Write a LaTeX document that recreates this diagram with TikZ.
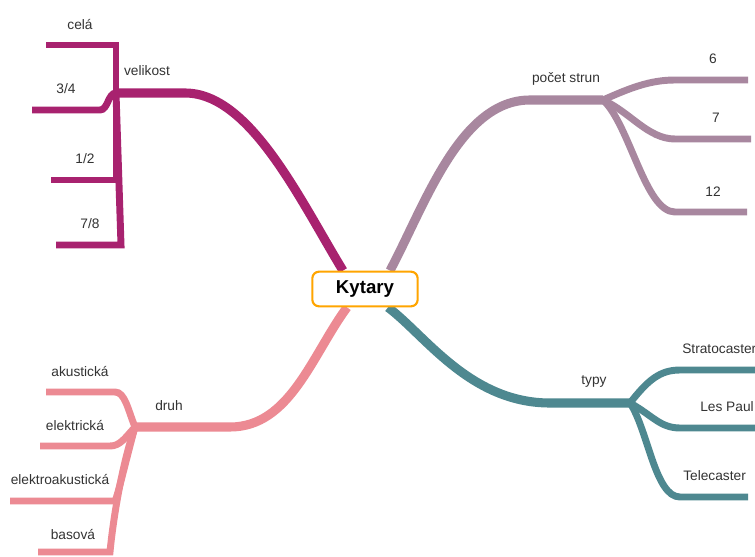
\documentclass[tikz,border=0pt]{standalone}
\usepackage{fontspec}
\setmainfont{Liberation Sans}
\usetikzlibrary{calc}
\pgfdeclarelayer{bottom}
\pgfdeclarelayer{background}
\pgfsetlayers{bottom,background,main}
\definecolor{cVel}{HTML}{A8226F}
\definecolor{cStr}{HTML}{A8879F}
\definecolor{cDruh}{HTML}{EC8A93}
\definecolor{cTyp}{HTML}{4E8890}
\definecolor{cRoot}{HTML}{FFA500}
\definecolor{cText}{HTML}{333333}
\tikzset{
  rootbox/.style={draw=cRoot, line width=1.6pt, fill=white, rounded corners=5pt,
    minimum width=79pt, minimum height=26pt, inner sep=0pt,
    font=\fontsize{14}{16}\selectfont\bfseries, text=black},
  lbl/.style={font=\fontsize{10.3}{12}\selectfont, text=cText, inner sep=0pt},
  mainbranch/.style={line width=6.8pt},
  subbranch/.style={line width=5.2pt, line join=miter},
}
\begin{document}
\begin{tikzpicture}[x=0.75pt,y=-0.75pt]
\clip (0,0) rectangle (755,556);
\begin{pgfonlayer}{bottom}
\fill[white] (0,0) rectangle (755,556);
\end{pgfonlayer}

% central topic
\node[rootbox] (K) at (365,289) {Kytary};

% branch junctions
\coordinate (V) at (116,93);
\coordinate (S) at (603,100);
\coordinate (D) at (135,427);
\coordinate (T) at (630,403);

% leaf ends
\coordinate (vCela) at (46,45);
\coordinate (vTri) at (32,110);
\coordinate (vPul) at (51,180);
\coordinate (vSed) at (56,245);
\coordinate (s6) at (748,80);
\coordinate (s7) at (751,139);
\coordinate (s12) at (747,212);
\coordinate (tStrat) at (756,370);
\coordinate (tLes) at (756,428);
\coordinate (tTele) at (748,497);
\coordinate (dAku) at (46,392);
\coordinate (dEl) at (40,446);
\coordinate (dElAk) at (10,501);
\coordinate (dBas) at (38,552);

% labels
\node[lbl] (lVel) at (147,71) {velikost};
\node[lbl] (lCela) at (80,25) {celá};
\node[lbl] (lTri) at (66,89) {3/4};
\node[lbl] (lPul) at (85,159) {1/2};
\node[lbl] (lSed) at (90,224) {7/8};
\node[lbl] (lStr) at (566,79) {počet strun};
\node[lbl] (l6) at (713,59) {6};
\node[lbl] (l7) at (716,118) {7};
\node[lbl] (l12) at (713,192) {12};
\node[lbl] (lTyp) at (594,381) {typy};
\node[lbl, anchor=west] (lStrat) at (682,349) {Stratocaster};
\node[lbl, anchor=west] (lLes) at (700,407) {Les Paul};
\node[lbl, anchor=west] (lTele) at (683,476) {Telecaster};
\node[lbl] (lDruh) at (169,406) {druh};
\node[lbl] (lAku) at (80,372) {akustická};
\node[lbl] (lEl) at (75,426) {elektrická};
\node[lbl] (lElAk) at (60,480) {elektroakustická};
\node[lbl] (lBas) at (73,535) {basová};

\begin{pgfonlayer}{background}
% velikost
\draw[mainbranch, cVel] ($(K.north)+(-22,0)$) .. controls (300,200) and (250,93) .. (185,93) -- (V);
\draw[subbranch, cVel] (V) -- (116,45) -- (vCela);
\draw[subbranch, cVel] (V) .. controls (108,93) and (108,110) .. (100,110) -- (vTri);
\draw[subbranch, cVel] (V) -- (116,180) -- (vPul);
\draw[subbranch, cVel] (V) -- (121,245) -- (vSed);

% pocet strun
\draw[mainbranch, cStr] ($(K.north)+(25,0)$) .. controls (425,205) and (460,100) .. (530,100) -- (S);
\draw[subbranch, cStr] (S) .. controls (630,88) and (650,80) .. (675,80) -- (s6);
\draw[subbranch, cStr] (S) .. controls (630,112) and (648,139) .. (675,139) -- (s7);
\draw[subbranch, cStr] (S) .. controls (630,125) and (645,212) .. (675,212) -- (s12);

% druh
\draw[mainbranch, cDruh] ($(K.south)+(-18,0)$) .. controls (312,355) and (290,427) .. (230,427) -- (D);
\draw[subbranch, cDruh] (D) .. controls (128,410) and (125,392) .. (115,392) -- (dAku);
\draw[subbranch, cDruh] (D) .. controls (125,438) and (120,446) .. (110,446) -- (dEl);
\draw[subbranch, cDruh] (D) .. controls (126,460) and (118,495) .. (115,501) -- (dElAk);
\draw[subbranch, cDruh] (D) .. controls (120,470) and (112,530) .. (110,552) -- (dBas);

% typy
\draw[mainbranch, cTyp] ($(K.south)+(23,0)$) .. controls (425,335) and (470,403) .. (550,403) -- (T);
\draw[subbranch, cTyp] (T) .. controls (648,380) and (660,370) .. (680,370) -- (tStrat);
\draw[subbranch, cTyp] (T) .. controls (652,415) and (660,428) .. (680,428) -- (tLes);
\draw[subbranch, cTyp] (T) .. controls (648,430) and (655,497) .. (680,497) -- (tTele);
\end{pgfonlayer}
\end{tikzpicture}
\end{document}
